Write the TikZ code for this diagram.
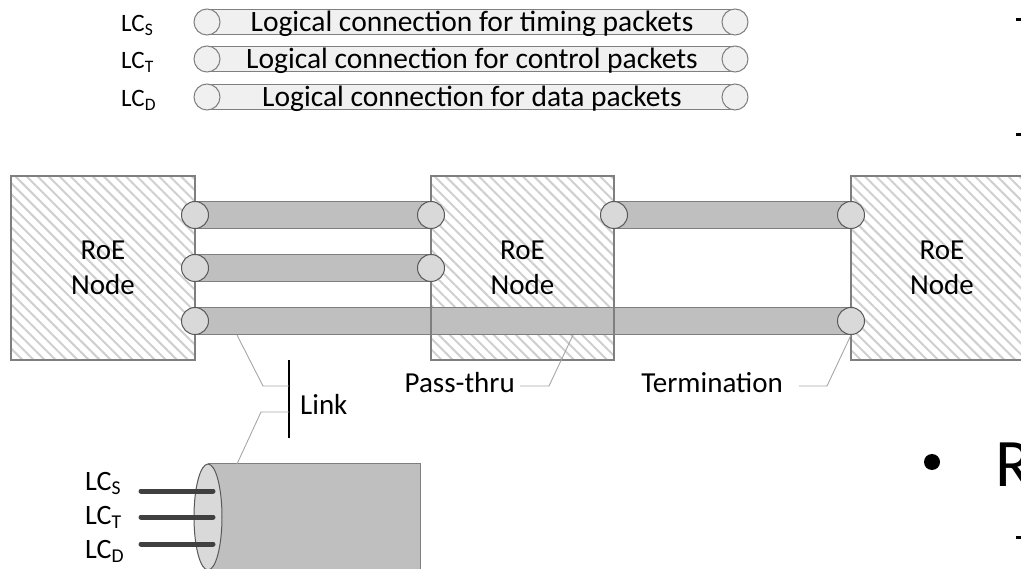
\documentclass[tikz,border=0pt]{standalone}
\usepackage{fontspec}
\setmainfont{Carlito}
\usetikzlibrary{patterns.meta,shapes.geometric,calc}

\definecolor{tubegray}{HTML}{BFBFBF}
\definecolor{capgray}{HTML}{D9D9D9}
\definecolor{edgegray}{HTML}{7F7F7F}
\definecolor{capedge}{HTML}{595959}
\definecolor{hatchgray}{HTML}{CFCFCF}
\definecolor{leadgray}{HTML}{A6A6A6}
\definecolor{legendfill}{HTML}{F0F0F0}
\definecolor{wiregray}{HTML}{404040}

\pgfdeclarelayer{hatching}
\pgfdeclarelayer{tubes}
\pgfsetlayers{hatching,tubes,main}

\begin{document}
\begin{tikzpicture}[x=1pt, y=-1pt,
    roebox/.style={draw=edgegray, line width=1.3pt, minimum height=184pt, inner sep=0pt, align=center, font=\fontsize{29}{35}\selectfont},
    hatchfill/.style={pattern={Lines[angle=-45, distance=7.8pt, line width=2pt]}, pattern color=hatchgray},
    tubebody/.style={fill=tubegray, draw=edgegray, line width=1.2pt},
    tubecap/.style={circle, fill=capgray, draw=capedge, line width=1pt, minimum size=27pt, inner sep=0pt},
    legtube/.style={fill=legendfill, draw=edgegray, line width=1pt},
    legcap/.style={circle, fill=legendfill, draw=edgegray, line width=1pt, minimum size=26pt, inner sep=0pt},
    legtext/.style={inner sep=0pt, anchor=base, font=\fontsize{29.5}{35}\selectfont},
    toplc/.style={inner sep=0pt, anchor=base west, font=\fontsize{25}{30}\selectfont},
    lowlc/.style={inner sep=0pt, anchor=base west, font=\fontsize{28}{34}\selectfont},
    calltext/.style={inner sep=0pt, font=\fontsize{29}{35}\selectfont},
    leader/.style={draw=leadgray, line width=0.9pt},
    wire/.style={draw=wiregray, line width=5pt, line cap=round}
]
\useasboundingbox (0,0) rectangle (1021,569);
\clip (0,0) rectangle (1021,569);

% legend
\foreach \y/\s/\txt [count=\i] in {22/S/timing, 59/T/control, 97/D/data} {
  \node[legcap] (la\i) at (207,\y) {};
  \node[legcap] (lb\i) at (735,\y) {};
  \begin{pgfonlayer}{tubes}
    \draw[legtube] ($(la\i.center)+(0,-12.5)$) rectangle ($(lb\i.center)+(0,12.5)$);
  \end{pgfonlayer}
  \node[toplc] (lc\i) at (121,\y+10) {LC\textsubscript{\s}};
  \node[legtext] (lt\i) at (472,\y+9.5) {Logical connection for \txt\ packets};
}

% RoE nodes
\node[roebox, minimum width=184pt] (n1) at (103,268) {RoE\\Node};
\node[roebox, minimum width=183pt] (n2) at (522.5,268) {RoE\\Node};
\node[roebox, minimum width=182pt] (n3) at (942,268) {RoE\\Node};
\begin{pgfonlayer}{hatching}
  \foreach \n in {n1,n2,n3}
    \fill[hatchfill] (\n.north west) rectangle (\n.south east);
\end{pgfonlayer}

% logical connections
\node[tubecap] (p1a) at (195,215) {};
\node[tubecap] (p1b) at (431,215) {};
\node[tubecap] (p1c) at (614,215) {};
\node[tubecap] (p1d) at (851,215) {};
\node[tubecap] (p2a) at (195,268) {};
\node[tubecap] (p2b) at (431,268) {};
\node[tubecap] (p3a) at (195,321) {};
\node[tubecap] (p3b) at (851,321) {};
\begin{pgfonlayer}{tubes}
  \foreach \a/\b in {p1a/p1b, p1c/p1d, p2a/p2b, p3a/p3b}
    \draw[tubebody] ($(\a.center)+(0,-13.5)$) rectangle ($(\b.center)+(0,13.5)$);
\end{pgfonlayer}

% link cable
\node[fill=tubegray, minimum width=212pt, minimum height=106pt, inner sep=0pt, anchor=west] (cable) at (208,517) {};
\draw[edgegray, line width=1.2pt] (cable.north west) -- (cable.north east) -- (cable.south east);
\node[ellipse, fill=capgray, draw=capedge, line width=1pt, minimum width=28pt, minimum height=106pt, inner sep=0pt] (cablecap) at (208,517) {};
\foreach \y/\s/\b in {491/S/490, 517/T/524, 544/D/558} {
  \coordinate (w\s) at (141,\y);
  \draw[wire] (w\s) -- (213,\y);
  \node[lowlc] (lc\s) at (85,\b) {LC\textsubscript{\s}};
}

% callouts
\node[calltext, anchor=base west] (link) at (300,415) {Link};
\node[calltext, anchor=base east] (pass) at (515,393) {Pass-thru};
\node[calltext, anchor=base east] (term) at (783,393) {Termination};
\coordinate (bartop) at (289,360);
\coordinate (barbot) at (289,438);
\draw[line width=1.3pt] (bartop) -- (barbot);
\coordinate (linktap) at (237,335);
\coordinate (cabletap) at (237,464);
\coordinate (passtap) at (573,335);
\draw[leader] (linktap) -- (263,386) -- (bartop |- 0,386);
\draw[leader] (bartop |- 0,412) -- (261,412) -- (cabletap);
\draw[leader] (passtap) -- (549,386) -- (520,386);
\draw[leader] (p3b.south) -- (827,386) -- (799,386);

% slide remains at the right edge
\node[circle, fill=black, minimum size=16pt, inner sep=0pt] (bullet) at (932,462) {};
\node[inner sep=0pt, anchor=base west, font=\fontsize{68}{80}\selectfont] (bigR) at (995,486) {R};
\foreach \y [count=\i] in {20,135,537}
  \node[fill=black, minimum width=6pt, minimum height=3pt, inner sep=0pt] (dash\i) at (1019,\y) {};

\end{tikzpicture}
\end{document}
